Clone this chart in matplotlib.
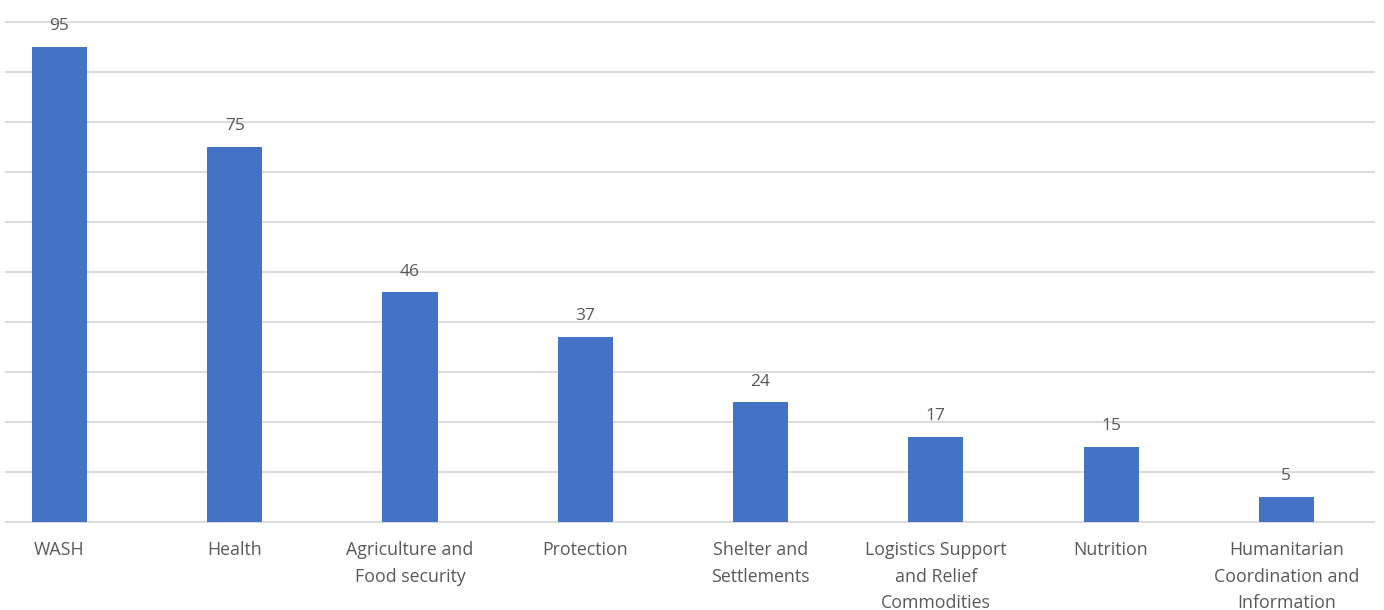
import matplotlib.pyplot as plt

sectors = [
    'WASH',
    'Health',
    'Agriculture and\nFood security',
    'Protection',
    'Shelter and\nSettlements',
    'Logistics Support\nand Relief\nCommodities',
    'Nutrition',
    'Humanitarian\nCoordination and\nInformation',
]
counts = [95, 75, 46, 37, 24, 17, 15, 5]

bar_color = '#4472C4'
text_color = '#595959'

plt.rcParams['font.family'] = ['Open Sans', 'DejaVu Sans']

fig = plt.figure(figsize=(13.84, 6.10), dpi=100)
ax = fig.add_axes([6 / 1384, 88 / 610, 1368 / 1384, 500 / 610])

x = range(len(sectors))
bars = ax.bar(x, counts, width=0.314, color=bar_color, zorder=3)

for rect, val in zip(bars, counts):
    ax.annotate(str(val), (rect.get_x() + rect.get_width() / 2, val),
                xytext=(0, 9), textcoords='offset points',
                ha='center', va='bottom', fontsize=12.5, color=text_color)

ax.set_xlim(-0.305, 7.5)
ax.set_ylim(0, 100)
ax.set_yticks(range(0, 101, 10))
ax.set_yticklabels([])
ax.set_xticks(list(x))
ax.set_xticklabels(sectors, fontsize=12.8, color=text_color, linespacing=1.6,
                   va='top')
ax.tick_params(axis='both', length=0)
ax.tick_params(axis='x', pad=14)

ax.grid(axis='y', color='#d9d9d9', linewidth=1.3, zorder=0, clip_on=False)
for side in ['top', 'right', 'left', 'bottom']:
    ax.spines[side].set_visible(False)

fig.savefig('out.png', dpi=100)
